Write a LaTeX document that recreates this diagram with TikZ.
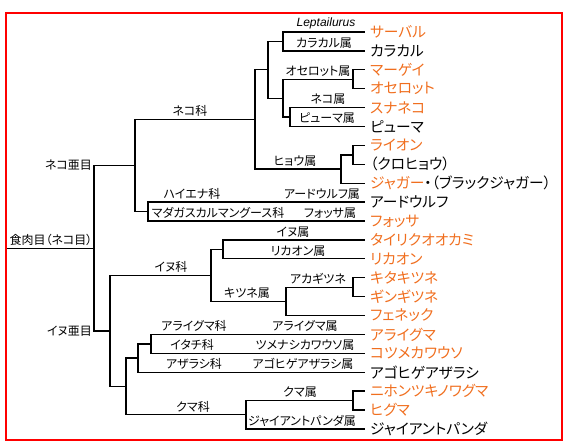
\documentclass[tikz,border=0pt]{standalone}
\usepackage{fontspec}
\setmainfont[RawFeature=+palt]{Noto Sans CJK JP}
\newfontfamily\latnfont{Liberation Sans}
\usepackage{tikz}
\usetikzlibrary{positioning}
\definecolor{leaforange}{RGB}{240,110,30}

\begin{document}
\begin{tikzpicture}[x=1pt,y=-1pt]
  \useasboundingbox (0,0) rectangle (587,447);
  \tikzstyle{frame}=[draw=red,line width=2pt]
  \tikzstyle{branch}=[line width=1.3pt]
  \draw[frame] (6,13) rectangle (562,440);

%% species at the tips
  \newcommand{\mytop}{32}
  \newcommand{\myrow}{18.9}
  \tikzstyle{leaf}=[anchor=west,inner xsep=5pt,inner ysep=0pt,font=\fontsize{14.7}{16}\selectfont]
  \foreach \n/\txt/\col in { 0/サーバル/leaforange,         1/カラカル/black,
                             2/マーゲイ/leaforange,         3/オセロット/leaforange,
                             4/スナネコ/leaforange,         5/ピューマ/black,
                             6/ライオン/leaforange,         7/（クロヒョウ）/black,
                             8/ジャガー{\color{black}・（ブラックジャガー）}/leaforange,
                             9/アードウルフ/black,         10/フォッサ/leaforange,
                            11/タイリクオオカミ/leaforange, 12/リカオン/leaforange,
                            13/キタキツネ/leaforange,       14/ギンギツネ/leaforange,
                            15/フェネック/leaforange,       16/アライグマ/leaforange,
                            17/コツメカワウソ/leaforange,   18/アゴヒゲアザラシ/black,
                            19/ニホンツキノワグマ/leaforange, 20/ヒグマ/leaforange,
                            21/ジャイアントパンダ/black}
    \node[leaf,text=\col] (l\n) at (365,{\mytop+\myrow*\n}) {\txt};

%% branching points
  \coordinate (lc)    at (283, 41.45);
  \coordinate (oc)    at (353, 79.25);
  \coordinate (np)    at (290,117.05);
  \coordinate (onp)   at (283, 98.15);
  \coordinate (sc)    at (268, 69.8);
  \coordinate (lj)    at (353,154.85);
  \coordinate (pan)   at (341,169.03);
  \coordinate (fel)   at (255,119.4);
  \coordinate (hy)    at (148,211.55);
  \coordinate (felif) at (135,165.5);
  \coordinate (can)   at (223,249.35);
  \coordinate (vul)   at (353,287.15);
  \coordinate (fox)   at (286,301.3);
  \coordinate (canid) at (211,275.3);
  \coordinate (pr)    at (151,343.85);
  \coordinate (pin)   at (138,358.0);
  \coordinate (ur)    at (353,400.55);
  \coordinate (bear)  at (246,414.7);
  \coordinate (arct)  at (126,386.4);
  \coordinate (canif) at (110,330.85);
  \coordinate (root)  at (94,248.2);
  \coordinate (root0) at (7,248.2);

%% draw connections
  \draw[branch] (root0) -- (root);
  \foreach \p/\c in {root/felif, root/canif,
                     felif/fel, felif/hy, fel/sc, fel/pan,
                     sc/lc, sc/onp, lc/l0.west, lc/l1.west,
                     onp/oc, onp/np, oc/l2.west, oc/l3.west, np/l4.west, np/l5.west,
                     pan/lj, pan/l8.west, lj/l6.west, lj/l7.west,
                     hy/l9.west, hy/l10.west,
                     canif/canid, canif/arct, canid/can, canid/fox,
                     can/l11.west, can/l12.west, fox/vul, fox/l15.west, vul/l13.west, vul/l14.west,
                     arct/pin, arct/bear, pin/pr, pin/l18.west, pr/l16.west, pr/l17.west,
                     bear/ur, bear/l21.west, ur/l19.west, ur/l20.west}
    \draw[branch] (\p) |- (\c);

%% taxon names on the branches
  \tikzstyle{lbl}=[anchor=south,inner xsep=0pt,inner ysep=2.5pt,font=\fontsize{12}{14}\selectfont]
  \node[lbl,font=\fontsize{12}{14}\latnfont\itshape] (t0) at (326,32) {Leptailurus};
  \foreach \x/\y/\txt [count=\k] in {324/50.9/カラカル属, 318/79.25/オセロット属,
                                    328/107.6/ネコ属, 327/126.5/ピューマ属,
                                    295/169.03/ヒョウ属, 190/119.4/ネコ科,
                                    192/202.1/ハイエナ科, 322/202.1/アードウルフ属,
                                    218/221/マダガスカルマングース科, 330/221/フォッサ属,
                                    51/248.2/食肉目（ネコ目）,
                                    171/275.3/イヌ科, 293/239.9/イヌ属, 298/258.8/リカオン属,
                                    247/301.3/キツネ属, 318/287.15/アカギツネ,
                                    194/334.4/アライグマ科, 305/334.4/アライグマ属,
                                    192/353.3/イタチ科, 305/353.3/ツメナシカワウソ属,
                                    194/372.2/アザラシ科, 303/372.2/アゴヒゲアザラシ属,
                                    300/400.55/クマ属, 193/414.7/クマ科,
                                    302/428.9/ジャイアントパンダ属}
    \node[lbl] (t\k) at (\x,\y) {\txt};
  \node[lbl,anchor=east,inner xsep=2pt] (sub1) at (root|-felif) {ネコ亜目};
  \node[lbl,anchor=east,inner xsep=2pt] (sub2) at (root|-canif) {イヌ亜目};
\end{tikzpicture}
\end{document}
